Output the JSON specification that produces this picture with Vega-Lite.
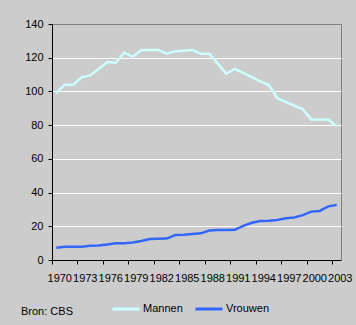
{
  "$schema": "https://vega.github.io/schema/vega-lite/v6.json",
  "width": 289,
  "height": 236,
  "autosize": "none",
  "padding": {"left": 52, "top": 24, "right": 15, "bottom": 65},
  "background": "#CCCCCC",
  "config": {
    "font": "Liberation Sans",
    "view": {"stroke": "#808080", "strokeWidth": 1, "fill": "#CCCCCC"}
  },
  "data": {
    "values": [
      {"year": 1970, "serie": "Mannen", "value": 99.0},
      {"year": 1971, "serie": "Mannen", "value": 104.0},
      {"year": 1972, "serie": "Mannen", "value": 104.0},
      {"year": 1973, "serie": "Mannen", "value": 108.5},
      {"year": 1974, "serie": "Mannen", "value": 109.5},
      {"year": 1975, "serie": "Mannen", "value": 113.5},
      {"year": 1976, "serie": "Mannen", "value": 117.4},
      {"year": 1977, "serie": "Mannen", "value": 117.0},
      {"year": 1978, "serie": "Mannen", "value": 123.0},
      {"year": 1979, "serie": "Mannen", "value": 120.5},
      {"year": 1980, "serie": "Mannen", "value": 124.5},
      {"year": 1981, "serie": "Mannen", "value": 124.6},
      {"year": 1982, "serie": "Mannen", "value": 124.6},
      {"year": 1983, "serie": "Mannen", "value": 122.4},
      {"year": 1984, "serie": "Mannen", "value": 123.8},
      {"year": 1985, "serie": "Mannen", "value": 124.2},
      {"year": 1986, "serie": "Mannen", "value": 124.6},
      {"year": 1987, "serie": "Mannen", "value": 122.4},
      {"year": 1988, "serie": "Mannen", "value": 122.4},
      {"year": 1989, "serie": "Mannen", "value": 116.5},
      {"year": 1990, "serie": "Mannen", "value": 110.5},
      {"year": 1991, "serie": "Mannen", "value": 113.3},
      {"year": 1992, "serie": "Mannen", "value": 111.0},
      {"year": 1993, "serie": "Mannen", "value": 108.5},
      {"year": 1994, "serie": "Mannen", "value": 106.0},
      {"year": 1995, "serie": "Mannen", "value": 103.8},
      {"year": 1996, "serie": "Mannen", "value": 96.0},
      {"year": 1997, "serie": "Mannen", "value": 93.8},
      {"year": 1998, "serie": "Mannen", "value": 91.6},
      {"year": 1999, "serie": "Mannen", "value": 89.4},
      {"year": 2000, "serie": "Mannen", "value": 83.4},
      {"year": 2001, "serie": "Mannen", "value": 83.4},
      {"year": 2002, "serie": "Mannen", "value": 83.4},
      {"year": 2003, "serie": "Mannen", "value": 79.2},
      {"year": 1970, "serie": "Vrouwen", "value": 7.3},
      {"year": 1971, "serie": "Vrouwen", "value": 7.9},
      {"year": 1972, "serie": "Vrouwen", "value": 7.9},
      {"year": 1973, "serie": "Vrouwen", "value": 7.9},
      {"year": 1974, "serie": "Vrouwen", "value": 8.5},
      {"year": 1975, "serie": "Vrouwen", "value": 8.6},
      {"year": 1976, "serie": "Vrouwen", "value": 9.2},
      {"year": 1977, "serie": "Vrouwen", "value": 9.9},
      {"year": 1978, "serie": "Vrouwen", "value": 9.9},
      {"year": 1979, "serie": "Vrouwen", "value": 10.4},
      {"year": 1980, "serie": "Vrouwen", "value": 11.3},
      {"year": 1981, "serie": "Vrouwen", "value": 12.4},
      {"year": 1982, "serie": "Vrouwen", "value": 12.6},
      {"year": 1983, "serie": "Vrouwen", "value": 12.7},
      {"year": 1984, "serie": "Vrouwen", "value": 14.8},
      {"year": 1985, "serie": "Vrouwen", "value": 15.0},
      {"year": 1986, "serie": "Vrouwen", "value": 15.4},
      {"year": 1987, "serie": "Vrouwen", "value": 15.8},
      {"year": 1988, "serie": "Vrouwen", "value": 17.5},
      {"year": 1989, "serie": "Vrouwen", "value": 17.8},
      {"year": 1990, "serie": "Vrouwen", "value": 17.8},
      {"year": 1991, "serie": "Vrouwen", "value": 17.9},
      {"year": 1992, "serie": "Vrouwen", "value": 20.2},
      {"year": 1993, "serie": "Vrouwen", "value": 22.1},
      {"year": 1994, "serie": "Vrouwen", "value": 23.1},
      {"year": 1995, "serie": "Vrouwen", "value": 23.3},
      {"year": 1996, "serie": "Vrouwen", "value": 23.7},
      {"year": 1997, "serie": "Vrouwen", "value": 24.8},
      {"year": 1998, "serie": "Vrouwen", "value": 25.2},
      {"year": 1999, "serie": "Vrouwen", "value": 26.6},
      {"year": 2000, "serie": "Vrouwen", "value": 28.7},
      {"year": 2001, "serie": "Vrouwen", "value": 29.1},
      {"year": 2002, "serie": "Vrouwen", "value": 31.8},
      {"year": 2003, "serie": "Vrouwen", "value": 32.7}
    ]
  },
  "mark": {"type": "line", "strokeWidth": 2.5},
  "encoding": {
    "x": {
      "field": "year",
      "type": "ordinal",
      "bandPosition": 0.5,
      "scale": {"type": "band", "paddingInner": 0, "paddingOuter": 0},
      "axis": {
        "title": null,
        "values": [1970, 1973, 1976, 1979, 1982, 1985, 1988, 1991, 1994, 1997, 2000, 2003],
        "bandPosition": 0,
        "labelOffset": 3.5,
        "labelAngle": 0,
        "labelFontSize": 11,
        "labelColor": "black",
        "domainColor": "black",
        "tickColor": "black",
        "tickSize": 4,
        "labelPadding": 8,
        "labelOverlap": false,
        "labelBound": false,
        "labelFlush": false,
        "grid": false
      }
    },
    "y": {
      "field": "value",
      "type": "quantitative",
      "scale": {"domain": [0, 140], "nice": false},
      "axis": {
        "title": null,
        "values": [0, 20, 40, 60, 80, 100, 120, 140],
        "labelFontSize": 11,
        "labelColor": "black",
        "domainColor": "black",
        "tickColor": "black",
        "tickSize": 4,
        "labelPadding": 5,
        "grid": true,
        "gridColor": {"condition": {"test": "datum.value === 140", "value": "#808080"}, "value": "white"},
        "gridOpacity": 1,
        "gridWidth": 1
      }
    },
    "color": {
      "field": "serie",
      "type": "nominal",
      "scale": {"domain": ["Mannen", "Vrouwen"], "range": ["#CCFFFF", "#3366FF"]},
      "legend": {
        "orient": "none",
        "direction": "horizontal",
        "legendX": -31,
        "legendY": 270,
        "title": "Bron: CBS",
        "titleOrient": "left",
        "titleAnchor": "end",
        "titleBaseline": "alphabetic",
        "titlePadding": 38,
        "titleFontWeight": "normal",
        "titleFontSize": 11,
        "titleColor": "black",
        "labelFontSize": 11,
        "labelColor": "black",
        "labelOffset": 2,
        "symbolType": "stroke",
        "symbolSize": 729,
        "symbolStrokeWidth": 3,
        "columnPadding": 6
      }
    }
  }
}
